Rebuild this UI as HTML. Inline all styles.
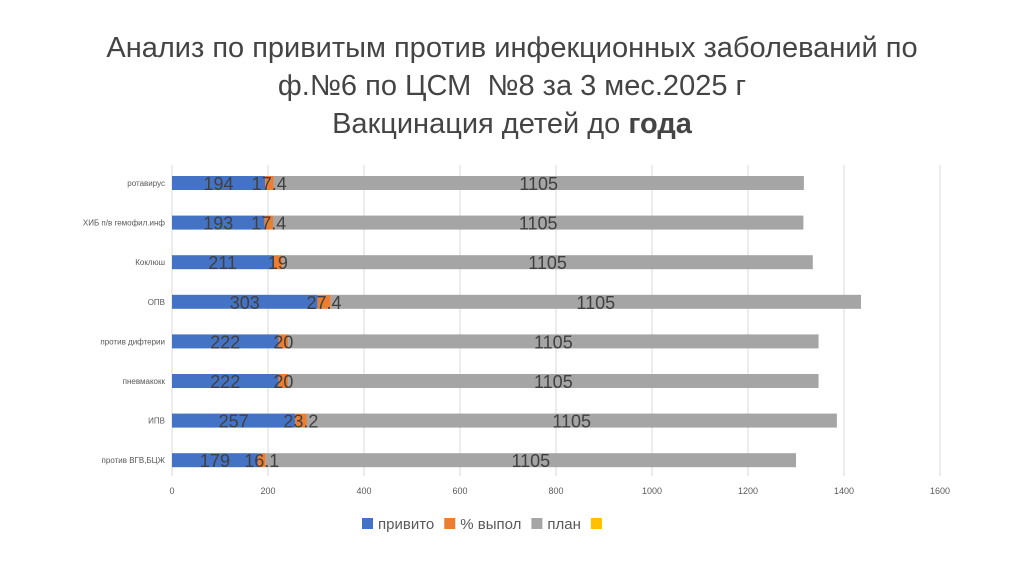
<!DOCTYPE html>
<html><head><meta charset="utf-8"><style>
body{margin:0;background:#fff;width:1024px;height:574px;overflow:hidden;font-family:"Liberation Sans","Noto Sans CJK SC",sans-serif}
.t{position:absolute;left:0;width:1024px;text-align:center;color:#444;font-size:29px;line-height:38px}
</style></head><body>
<div class="t" style="top:29px">Анализ по привитым против инфекционных заболеваний по<br>ф.№6 по ЦСМ&nbsp; №8 за 3 мес.2025 г<br>Вакцинация детей до <b>года</b></div>
<svg id="c" width="1024" height="574" style="position:absolute;left:0;top:0"></svg>
<script>
const categories=["ротавирус","ХИБ п/в гемофил.инф","Коклюш","ОПВ","против дифтерии","пневмакокк","ИПВ","против ВГВ,БЦЖ"];
const vaccinated=[194,193,211,303,222,222,257,179];
const percent=[17.4,17.4,19,27.4,20,20,23.2,16.1];
const plan=[1105,1105,1105,1105,1105,1105,1105,1105];
const ticks=[0,200,400,600,800,1000,1200,1400,1600];
const svg=document.getElementById('c');const NS='http://www.w3.org/2000/svg';
const x=v=>172+v*0.48;
const rowY=i=>183+i*39.6;
function mk(t,a,txt){const e=document.createElementNS(NS,t);for(const k in a)e.setAttribute(k,a[k]);if(txt!=null)e.textContent=txt;svg.appendChild(e);return e;}
ticks.forEach(t=>{
 const g=mk('line',{x1:x(t),x2:x(t),y1:165,y2:476,stroke:'#d9d9d9','stroke-width':1});
 
 
 const l=mk('text',{x:x(t),y:494,'font-size':9,fill:'#595959','text-anchor':'middle'},t);
 
 
});
const series=[[vaccinated,'#4472c4','vaccinated'],[percent,'#ed7d31','percent'],[plan,'#a5a5a5','plan']];
const labels=[];
categories.forEach((c,i)=>{
 const y=rowY(i);
 const lab=mk('text',{x:165,y:y+3,'font-size':8,fill:'#595959','text-anchor':'end'},c);
 
 
 let acc=0;
 series.forEach(([arr,col,nm])=>{
  const v=arr[i];
  const r=mk('rect',{x:x(acc),y:y-7,width:v*0.48,height:14,fill:col});
  
  
  labels.push([x(acc+v/2),y+7,v]);
  acc+=v;
 });
});
labels.forEach(([lx,ly,v])=>{
 const tx=mk('text',{x:lx,y:ly,'font-size':18,fill:'#404040','text-anchor':'middle'},v);
 
 
});
const leg=[['#4472c4','привито'],['#ed7d31','% выпол'],['#a5a5a5','план'],['#ffc000','']];
let lx=362;
leg.forEach(([col,t])=>{
 const s=mk('rect',{x:lx,y:518,width:11,height:11,fill:col});
 
 
 const tt=mk('text',{x:lx+16,y:529,'font-size':15,fill:'#595959'},t);
 
 
 lx+=16+tt.getComputedTextLength()+10;
});
</script>
</body></html>
